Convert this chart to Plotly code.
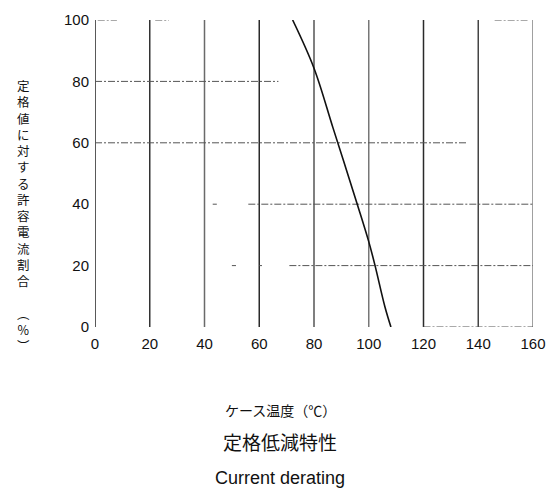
import plotly.graph_objects as go

# Data
case_temp = [72.2, 80, 87.0, 95.8, 100, 102.3, 105.9, 108.1]      # °C
allowed_pct = [100, 84.3, 64.7, 40, 27.8, 20, 6.6, 0]             # %

x_ticks = [0, 20, 40, 60, 80, 100, 120, 140, 160]
y_ticks = [0, 20, 40, 60, 80, 100]

# visible (partially faded) horizontal dash-dot grid segments: (y, x_start, x_end)
h_grid_segments = [
    (100, 1, 8), (100, 22, 27), (100, 146, 158),
    (80, 0, 67),
    (60, 0, 136),
    (40, 43, 44.5), (40, 56, 160),
    (20, 50, 51.5), (20, 60, 61), (20, 71, 160),
    (0, 120, 160),
]

y_title_chars = list("定格値に対する許容電流割合") + [" ", "︵", "%", "︶"]
x_title = "ケース温度（℃）"
title_jp = "定格低減特性"
title_en = "Current derating"

fig = go.Figure()
fig.add_trace(go.Scatter(
    x=case_temp, y=allowed_pct, mode="lines",
    line=dict(color="#111111", width=1.6, shape="spline", smoothing=1.0),
    hoverinfo="skip", showlegend=False,
))

# scanned look: vertical rules of slightly varying darkness
v_colors = ["#222222", "#333333", "#6a6a6a", "#2a2a2a", "#555555",
            "#777777", "#2a2a2a", "#444444", "#808080"]
shapes = []
for xv, col in zip(x_ticks, v_colors):
    shapes.append(dict(type="line", xref="x", yref="y", x0=xv, x1=xv, y0=0, y1=100,
                       line=dict(color=col, width=1.5), layer="below"))
for (yv, xa, xb) in h_grid_segments:
    shapes.append(dict(type="line", xref="x", yref="y", x0=xa, x1=xb, y0=yv, y1=yv,
                       line=dict(color="#555555", width=1, dash="7px,2px,2px,2px"), layer="below"))

# page body has an 8px margin: work in screen pixels, convert to figure pixels
OFF = 8
FW, FH = 544, 482
PL, PT, PW, PH = 95 - OFF, 20 - OFF, 438, 307


def px_to_paper(xpx, ypx):
    xf, yf = xpx - OFF, ypx - OFF
    return (xf - PL) / PW, (PT + PH - yf) / PH


annotations = []
ax_, ay_ = px_to_paper(23, 85 + 8 * 16.25)
annotations.append(dict(text="<br>".join(y_title_chars), xref="paper", yref="paper",
                        x=ax_, y=ay_, showarrow=False, xanchor="center", yanchor="middle",
                        align="center",
                        font=dict(family="Noto Sans CJK JP", size=12.5, color="#111")))

for txt, ypx, fam, sz in [(x_title, 410, "Noto Sans CJK JP", 14),
                          (title_jp, 441, "Noto Sans CJK JP", 19),
                          (title_en, 478, "Liberation Sans", 18)]:
    ax_, ay_ = px_to_paper(280, ypx)
    annotations.append(dict(text=txt, xref="paper", yref="paper", x=ax_, y=ay_,
                            showarrow=False, xanchor="center", yanchor="middle",
                            font=dict(family=fam, size=sz, color="#111")))

fig.update_layout(
    width=FW, height=FH,
    margin=dict(l=PL, r=FW - PL - PW, t=PT, b=FH - PT - PH, autoexpand=False),
    paper_bgcolor="white", plot_bgcolor="white",
    shapes=shapes, annotations=annotations,
    xaxis=dict(range=[0, 160], tickvals=x_ticks, ticktext=[str(v) for v in x_ticks],
               showgrid=False, zeroline=False, showline=False, ticks="",
               ticklabelstandoff=6, automargin=False,
               tickfont=dict(family="Liberation Sans", size=15, color="#111")),
    yaxis=dict(range=[0, 100], tickvals=y_ticks, ticktext=[str(v) for v in y_ticks],
               showgrid=False, zeroline=False, showline=False, ticks="",
               ticklabelstandoff=5, automargin=False,
               tickfont=dict(family="Liberation Sans", size=15, color="#111")),
)

fig.write_html("out.html")
